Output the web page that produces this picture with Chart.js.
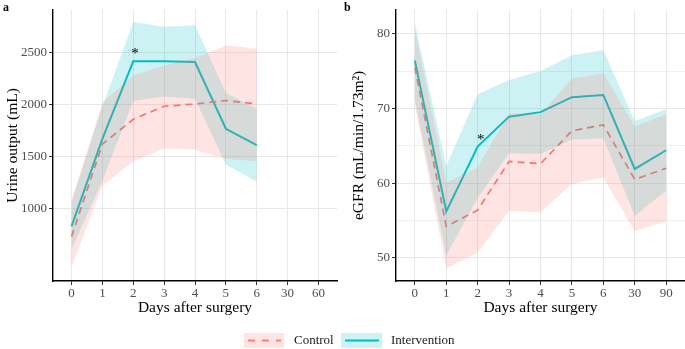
<!DOCTYPE html>
<html>
<head>
<meta charset="utf-8">
<script src="https://cdn.jsdelivr.net/npm/chart.js@4.4.0/dist/chart.umd.min.js"></script>
<style>
  body { margin: 0; width: 685px; height: 349px; background: #fff; position: relative; overflow: hidden; }
  canvas { position: absolute; top: 0; }
  #ca { left: 0; }
  #cb { left: 340px; }
  #lg { left: 0; top: 320px; }
  .tag { position: absolute; top: 0; font: bold 12px "Liberation Serif", serif; color: #000; }
</style>
</head>
<body>
<canvas id="ca" width="340" height="320"></canvas>
<canvas id="cb" width="345" height="320"></canvas>
<canvas id="lg" width="685" height="29"></canvas>
<div class="tag" style="left:3px">a</div>
<div class="tag" style="left:344px">b</div>
<script>
// panel a: urine output
const urineDays = ['0', '1', '2', '3', '4', '5', '6', '30', '60']
const urineTicks = [1000, 1500, 2000, 2500]
const urineControl = [730, 1620, 1860, 1985, 2006, 2040, 2008]
const urineControlLow = [437, 1220, 1455, 1580, 1565, 1480, 1455]
const urineControlHigh = [1080, 2020, 2280, 2375, 2450, 2570, 2540]
const urineInterv = [828, 1670, 2418, 2418, 2410, 1768, 1611]
const urineIntervLow = [605, 1270, 2038, 2078, 2056, 1423, 1257]
const urineIntervHigh = [1063, 1980, 2796, 2750, 2764, 2112, 1960]
const urineStar = { day: 2.06, value: 2490 }

// panel b: eGFR
const egfrDays = ['0', '1', '2', '3', '4', '5', '6', '30', '90']
const egfrTicks = [50, 55, 60, 65, 70, 75, 80]
const egfrControl = [75.5, 54.2, 56.4, 62.9, 62.6, 67.0, 67.8, 60.5, 62.0]
const egfrControlLow = [70.5, 48.6, 50.7, 56.3, 56.1, 59.9, 60.8, 53.6, 54.9]
const egfrControlHigh = [80.6, 60.1, 62.1, 69.4, 69.2, 74.0, 74.7, 67.6, 69.2]
const egfrInterv = [76.4, 56.2, 64.9, 68.9, 69.5, 71.5, 71.8, 61.9, 64.4]
const egfrIntervLow = [71.2, 50.3, 58.0, 64.0, 63.9, 65.8, 66.0, 55.6, 59.0]
const egfrIntervHigh = [81.4, 62.3, 71.9, 73.8, 75.0, 77.1, 77.8, 68.3, 69.9]
const egfrStar = { day: 2.1, value: 65.8 }

const red = '#F8766D'
const teal = '#00BFC4'
const redBand = 'rgba(248,118,109,0.2)'
const tealBand = 'rgba(0,191,196,0.2)'
const serif = '"Liberation Serif", "Times New Roman", serif'

const pts = arr => arr.map((v, i) => ({ x: i, y: v }))

const starPlugin = {
  id: 'star',
  afterDatasetsDraw(chart, args, opts) {
    const { ctx, scales } = chart
    ctx.save()
    ctx.font = '15px ' + serif
    ctx.fillStyle = '#000'
    ctx.textAlign = 'center'
    ctx.textBaseline = 'middle'
    ctx.fillText('*', scales.x.getPixelForValue(opts.day), scales.y.getPixelForValue(opts.value))
    ctx.restore()
  }
}

function makeChart(id, o) {
  const band = (data, color) => ({ data: pts(data), borderWidth: 0, pointRadius: 0, backgroundColor: color, fill: '+1' })
  const edge = data => ({ data: pts(data), borderWidth: 0, pointRadius: 0, fill: false })
  const minor = c => o.labelStep && c.tick && c.tick.value % o.labelStep !== 0
  return new Chart(document.getElementById(id), {
    type: 'line',
    data: {
      datasets: [
        band(o.ctrlHigh, redBand), edge(o.ctrlLow),
        band(o.intHigh, tealBand), edge(o.intLow),
        { data: pts(o.ctrl), borderColor: red, borderWidth: 1.7, borderDash: [7, 5], pointRadius: 0, fill: false },
        { data: pts(o.int), borderColor: teal, borderWidth: 2, pointRadius: 0, fill: false }
      ]
    },
    options: {
      responsive: false,
      animation: false,
      devicePixelRatio: 1,
      layout: { padding: { top: 3, right: o.padRight, left: 0, bottom: 0 } },
      plugins: { legend: { display: false }, tooltip: { enabled: false }, star: o.star },
      scales: {
        x: {
          type: 'linear',
          min: -0.6,
          max: o.days.length - 1 + 0.6,
          afterBuildTicks: s => { s.ticks = o.days.map((d, i) => ({ value: i })) },
          afterFit: s => { s.height = 39 },
          ticks: { callback: (v, i) => o.days[i], color: '#4d4d4d', font: { family: serif, size: 13 }, padding: 1, maxRotation: 0 },
          grid: { color: '#e8e8e8', lineWidth: 1, tickLength: 4, tickColor: '#333' },
          border: { color: '#000', width: 1.4 },
          title: { display: true, text: 'Days after surgery', color: '#000', font: { family: serif, size: 15.5 }, padding: { top: 0, bottom: 3 } }
        },
        y: {
          min: o.yMin,
          max: o.yMax,
          afterBuildTicks: s => { s.ticks = o.yTicks.map(v => ({ value: v })) },
          afterFit: s => { s.width = o.yWidth },
          ticks: { callback: v => (o.labelStep && v % o.labelStep !== 0) ? '' : v, color: '#4d4d4d', font: { family: serif, size: 13 }, padding: 2 },
          grid: {
            color: c => minor(c) ? '#efefef' : '#e8e8e8',
            tickColor: c => minor(c) ? 'rgba(0,0,0,0)' : '#333',
            lineWidth: 1, tickLength: 4
          },
          border: { color: '#000', width: 1.4 },
          title: { display: true, text: o.yTitle, color: '#000', font: { family: serif, size: 15.5 }, padding: { top: o.titlePad, bottom: 0 } }
        }
      }
    },
    plugins: [starPlugin]
  })
}

makeChart('ca', {
  days: urineDays, yTicks: urineTicks, yMin: 303, yMax: 2913, yWidth: 53, padRight: 3, titlePad: 4,
  yTitle: 'Urine output (mL)', star: urineStar,
  ctrl: urineControl, ctrlLow: urineControlLow, ctrlHigh: urineControlHigh,
  int: urineInterv, intLow: urineIntervLow, intHigh: urineIntervHigh
})

makeChart('cb', {
  days: egfrDays, yTicks: egfrTicks, yMin: 46.9, yMax: 83.2, yWidth: 56, padRight: 0, titlePad: 10, labelStep: 10,
  yTitle: 'eGFR (mL/min/1.73m²)', star: egfrStar,
  ctrl: egfrControl, ctrlLow: egfrControlLow, ctrlHigh: egfrControlHigh,
  int: egfrInterv, intLow: egfrIntervLow, intHigh: egfrIntervHigh
})

// shared legend
const lg = document.getElementById('lg').getContext('2d')
const legendItems = [
  { label: 'Control', band: redBand, line: red, dash: [7, 7], x: 244, w: 40, tx: 294 },
  { label: 'Intervention', band: tealBand, line: teal, dash: [], x: 341, w: 41, tx: 391 }
]
legendItems.forEach(it => {
  lg.fillStyle = it.band
  lg.fillRect(it.x, 13, it.w, 15)
  lg.strokeStyle = it.line
  lg.lineWidth = 1.8
  lg.setLineDash(it.dash)
  lg.beginPath()
  lg.moveTo(it.x + 4, 20.5)
  lg.lineTo(it.x + it.w - 3, 20.5)
  lg.stroke()
  lg.setLineDash([])
  lg.fillStyle = '#1a1a1a'
  lg.font = '13px ' + serif
  lg.textBaseline = 'middle'
  lg.fillText(it.label, it.tx, 21)
})
</script>
</body>
</html>
